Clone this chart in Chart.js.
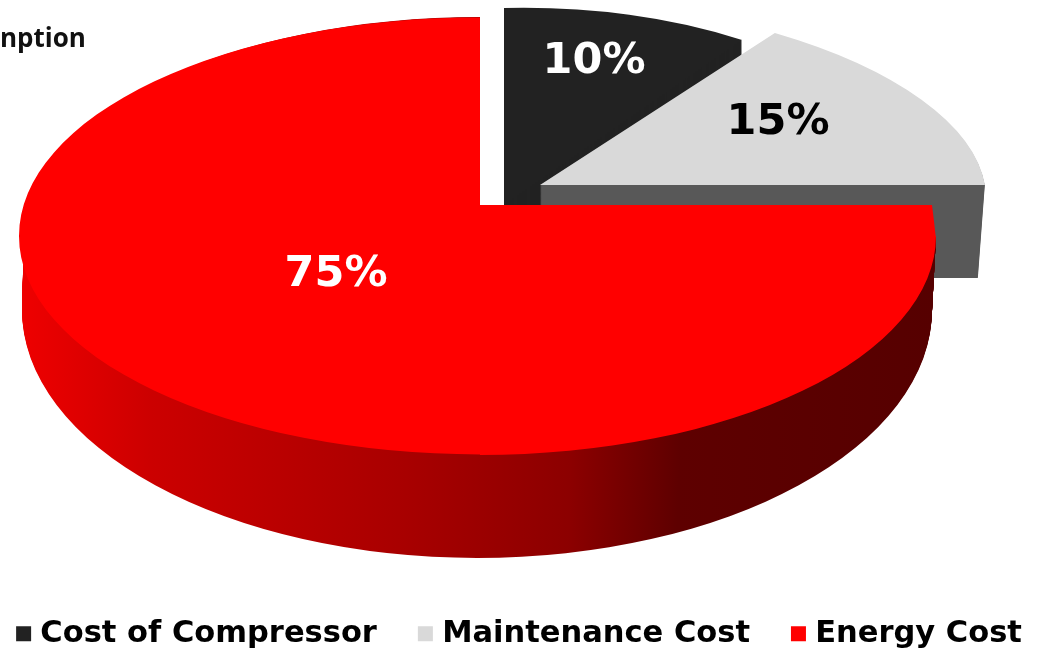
<!DOCTYPE html>
<html>
<head>
<meta charset="utf-8">
<script src="https://cdn.jsdelivr.net/npm/chart.js@4"></script>
<style>
  html, body { margin: 0; padding: 0; background: #fff; overflow: hidden; }
  canvas { display: block; }
</style>
</head>
<body>
<canvas id="chartId" width="1042" height="651"></canvas>
<script>
const categories = ['Cost of Compressor', 'Maintenance Cost', 'Energy Cost'];
const shares = [10, 15, 75];
const sliceColors = ['#222222', '#d9d9d9', '#ff0000'];
const labelColors = ['#ffffff', '#000000', '#ffffff'];
const titleText = 'nption';

// where the percentage text sits on each slice
const labelSpots = [[594, 62], [778, 123], [336, 275]];
const greyWallColor = '#585858';
const redWallStops = [[0, '#ee0000'], [0.14, '#cc0000'], [0.42, '#a80000'], [0.6, '#8c0000'], [0.72, '#5e0000'], [1, '#560000']];

// draw one library arc squashed into the tilted plane of the 3D pie
function drawTilted(ctx, arc, m, clip, fill) {
    const R = arc.outerRadius;
    const opts = arc.options;
    ctx.save();
    if (clip) {
        ctx.beginPath();
        ctx.rect(clip[0], clip[1], clip[2], clip[3]);
        ctx.clip();
    }
    ctx.translate(m.ox, m.oy);
    ctx.transform(m.ax / R, (m.ay || 0) / R, (m.bx || 0) / R, m.by / R, 0, 0);
    ctx.translate(-arc.x, -arc.y);
    if (fill) arc.options = Object.assign(Object.create(opts), { backgroundColor: fill });
    arc.draw(ctx);
    arc.options = opts;
    ctx.restore();
}

const tiltedPie = {
    id: 'tiltedPie',
    afterLayout(chart) {
        // the legend needs a wider box than the canvas, the title stays at the edge
        chart.titleBlock.left = 0;
    },
    beforeDatasetDraw(chart, args) {
        const ctx = chart.ctx;
        const [black, grey, red] = args.meta.data;

        // black slice: wall runs down behind the grey one
        for (let i = 30; i >= 0; i--) {
            drawTilted(ctx, black, { ox: 504, oy: 205 + i, ax: 405, ay: -9.5, by: 197 });
        }

        // grey slice wall, then its top
        for (let i = 93; i > 0; i--) {
            drawTilted(ctx, grey, { ox: 540, oy: 185 + i, ax: 445 - 7 * i / 93, bx: 33, by: 188 }, null, greyWallColor);
        }
        drawTilted(ctx, grey, { ox: 540, oy: 185, ax: 445, bx: 33, by: 188 });

        // red slice wall
        const wall = ctx.createLinearGradient(red.x - red.outerRadius, 0, red.x + red.outerRadius, 0);
        redWallStops.forEach(s => wall.addColorStop(s[0], s[1]));
        for (let i = 74; i >= 0; i--) {
            const t = i / 74;
            drawTilted(ctx, red, { ox: 480 - 3 * t, oy: 236 + 74 * t, ax: 456 - t, by: 219 + 29 * t }, null, wall);
        }

        // red slice top: left half, lower right, and the band under the cut edge
        drawTilted(ctx, red, { ox: 480, oy: 236, ax: 461, by: 218.5 }, [0, 0, 480.5, 651]);
        drawTilted(ctx, red, { ox: 480, oy: 236, ax: 456, by: 219 }, [480, 235.5, 562, 416]);
        drawTilted(ctx, red, { ox: 480, oy: 205, ax: 452, bx: 103, by: 800 }, [480, 205, 562, 31.5]);
        return false;
    },
    afterDatasetsDraw(chart) {
        const ctx = chart.ctx;
        ctx.save();
        ctx.font = 'bold 43px "DejaVu Sans"';
        ctx.textAlign = 'center';
        ctx.textBaseline = 'middle';
        shares.forEach((v, i) => {
            ctx.fillStyle = labelColors[i];
            ctx.fillText(v + '%', labelSpots[i][0], labelSpots[i][1]);
        });
        ctx.restore();
    }
};

new Chart(document.getElementById('chartId').getContext('2d'), {
    type: 'pie',
    data: {
        labels: categories,
        datasets: [{
            data: shares,
            backgroundColor: sliceColors,
            borderWidth: 0
        }]
    },
    plugins: [tiltedPie],
    options: {
        responsive: false,
        animation: false,
        events: [],
        layout: { padding: { bottom: -8, left: -29, right: -31 } },
        plugins: {
            title: {
                display: true,
                text: titleText,
                align: 'start',
                color: '#111',
                font: { family: '"Open Sans"', size: 26, weight: 'bold' },
                padding: { top: 24, bottom: 0 }
            },
            legend: {
                position: 'bottom',
                labels: {
                    usePointStyle: true,
                    pointStyle: 'rect',
                    boxWidth: 3,
                    boxHeight: 15,
                    padding: 47,
                    color: '#000',
                    font: { family: '"DejaVu Sans"', size: 30.5, weight: 'bold' }
                }
            },
            tooltip: { enabled: false }
        }
    }
});
</script>
</body>
</html>
